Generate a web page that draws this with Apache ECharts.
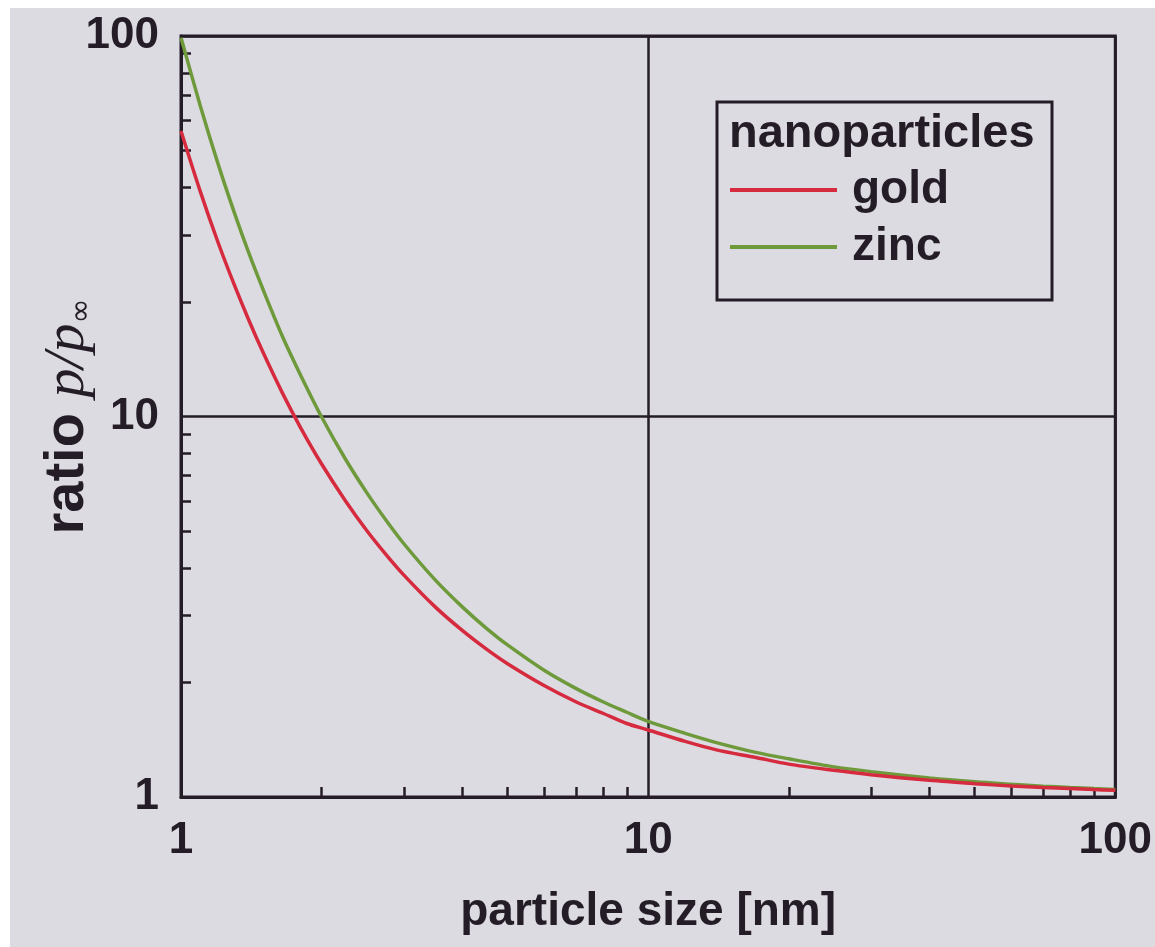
<!DOCTYPE html>
<html>
<head>
<meta charset="utf-8">
<script src="https://cdn.jsdelivr.net/npm/echarts@6/dist/echarts.min.js"></script>
<style>
html,body{margin:0;padding:0;background:#ffffff;}
#chart{width:1155px;height:947px;}
</style>
</head>
<body>
<div id="chart"></div>
<script>
// particle size [nm]
var sizes = [1, 1.1, 1.2, 1.3, 1.4, 1.5, 1.65, 1.8, 2, 2.25, 2.5, 2.75, 3, 3.5, 4, 4.5, 5, 6, 7, 8, 9, 10, 12, 14, 17, 20, 25, 30, 40, 50, 60, 70, 80, 90, 100];
// ratio p/p_inf
var gold = [56.3, 39.0, 28.7, 22.2, 17.8, 14.7, 11.5, 9.38, 7.50, 6.00, 5.01, 4.33, 3.83, 3.16, 2.74, 2.45, 2.24, 1.96, 1.78, 1.66, 1.56, 1.50, 1.40, 1.33, 1.27, 1.22, 1.175, 1.144, 1.106, 1.084, 1.069, 1.059, 1.052, 1.046, 1.041];
var zinc = [99, 65.5, 46.2, 34.4, 26.7, 21.5, 16.2, 12.9, 9.97, 7.72, 6.30, 5.33, 4.63, 3.72, 3.16, 2.78, 2.51, 2.15, 1.93, 1.78, 1.67, 1.58, 1.47, 1.39, 1.31, 1.26, 1.20, 1.166, 1.122, 1.096, 1.080, 1.068, 1.059, 1.052, 1.047];
var majorTicks = [1, 10, 100];
var minorTicks = [2, 3, 4, 5, 6, 7, 8, 9, 20, 30, 40, 50, 60, 70, 80, 90];
var legendTitle = 'nanoparticles';

var ink = '#241d28';
var sans = '"Liberation Sans", Arial, sans-serif';

function pairs(xs, ys) { return xs.map(function (x, i) { return [x, ys[i]]; }); }

var chart = echarts.init(document.getElementById('chart'), null, { renderer: 'canvas' });

var labelStyle = { color: ink, fontSize: 44, fontWeight: 'bold', fontFamily: sans };

chart.setOption({
  backgroundColor: '#dcdbe1',
  animation: false,
  grid: { left: 181, right: 38, top: 36, bottom: 150, show: true, borderColor: ink, borderWidth: 3, backgroundColor: 'transparent' },
  xAxis: [
    {
      type: 'log', logBase: 10, min: 1, max: 100, position: 'bottom',
      name: 'particle size [nm]', nameLocation: 'middle', nameGap: 92, nameMoveOverlap: false,
      nameTextStyle: { color: ink, fontSize: 46, fontWeight: 'bold', fontFamily: sans },
      axisLine: { show: true, lineStyle: { color: ink, width: 3 } },
      axisTick: { show: false },
      axisLabel: Object.assign({ margin: 22, customValues: majorTicks, formatter: function (v) { return String(Math.round(v)); } }, labelStyle),
      splitLine: { show: true, lineStyle: { color: ink, width: 2.5 } },
      minorTick: { show: false }
    },
    {
      type: 'log', logBase: 10, min: 1, max: 100, position: 'bottom', offset: 0,
      axisLine: { show: false },
      axisLabel: { show: false },
      splitLine: { show: false },
      axisTick: { show: true, inside: true, length: 10, customValues: minorTicks, lineStyle: { color: ink, width: 2.5 } }
    }
  ],
  yAxis: [
    {
      type: 'log', logBase: 10, min: 1, max: 100, position: 'left',
      name: '{a|ratio }{b|p/p}{c|∞}', nameLocation: 'middle', nameGap: 84, nameRotate: 90, nameMoveOverlap: false,
      nameTextStyle: {
        rich: {
          a: { color: ink, fontSize: 56, fontWeight: 'bold', fontFamily: sans },
          b: { color: ink, fontSize: 58, fontStyle: 'italic', fontFamily: '"Liberation Serif", "Times New Roman", serif' },
          c: { color: ink, fontSize: 30, fontFamily: '"DejaVu Sans", sans-serif', verticalAlign: 'bottom', padding: [20, 0, 0, 0] }
        }
      },
      axisLine: { show: true, lineStyle: { color: ink, width: 3 } },
      axisTick: { show: false },
      axisLabel: Object.assign({ margin: 22, customValues: majorTicks, formatter: function (v) { return String(Math.round(v)); } }, labelStyle),
      splitLine: { show: true, lineStyle: { color: ink, width: 2.5 } }
    },
    {
      type: 'log', logBase: 10, min: 1, max: 100, position: 'left', offset: 0,
      axisLine: { show: false },
      axisLabel: { show: false },
      splitLine: { show: false },
      axisTick: { show: true, inside: true, length: 10, customValues: minorTicks, lineStyle: { color: ink, width: 2.5 } }
    }
  ],
  legend: {
    data: [{ name: 'gold', icon: 'rect' }, { name: 'zinc', icon: 'rect' }],
    orient: 'vertical',
    left: 730, top: 167,
    padding: 0,
    itemWidth: 107, itemHeight: 4, itemGap: 11,
    textStyle: { color: ink, fontSize: 46, fontWeight: 'bold', fontFamily: sans, lineHeight: 46, padding: [0, 0, 0, 10] }
  },
  graphic: [
    { type: 'rect', shape: { x: 0, y: 0, width: 1155, height: 8 }, style: { fill: '#ffffff' }, z: 100 },
    { type: 'rect', shape: { x: 0, y: 0, width: 10, height: 947 }, style: { fill: '#ffffff' }, z: 100 },
    { type: 'rect', shape: { x: 717, y: 102, width: 335, height: 198 }, style: { fill: 'none', stroke: ink, lineWidth: 3 }, z: 5 },
    { type: 'text', x: 729, y: 134, style: { text: legendTitle, fill: ink, font: 'bold 47px ' + sans, textVerticalAlign: 'middle' }, z: 5 }
  ],
  series: [
    {
      name: 'zinc', type: 'line', xAxisIndex: 0, yAxisIndex: 0,
      data: pairs(sizes, zinc), symbol: 'none', smooth: 0.3,
      lineStyle: { color: '#6f9a3c', width: 3.5 }, itemStyle: { color: '#6f9a3c' }
    },
    {
      name: 'gold', type: 'line', xAxisIndex: 0, yAxisIndex: 0,
      data: pairs(sizes, gold), symbol: 'none', smooth: 0.3,
      lineStyle: { color: '#d62a3e', width: 3.5 }, itemStyle: { color: '#d62a3e' }
    }
  ]
});
</script>
</body>
</html>
